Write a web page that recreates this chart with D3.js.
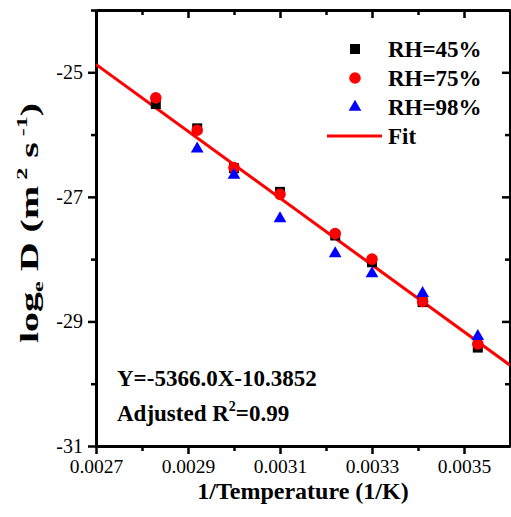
<!DOCTYPE html>
<html>
<head>
<meta charset="utf-8">
<script src="https://cdn.jsdelivr.net/npm/d3@7"></script>
<style>
  body { margin: 0; background: #fff; }
  svg { display: block; }
  svg text { font-family: "Liberation Serif", "Times New Roman", serif; }
</style>
</head>
<body>
<svg id="chart" width="511" height="517"></svg>
<script>
// data
const invT = [0.00283, 0.00292, 0.00300, 0.00310, 0.00322, 0.00330, 0.00341, 0.00353];
const rh45 = [-25.51, -25.90, -26.54, -26.92, -27.62, -28.05, -28.69, -29.42];
const rh75 = [-25.41, -25.93, -26.53, -26.96, -27.59, -28.00, -28.68, -29.36];
const rh98 = [null, -26.23, -26.65, -27.35, -27.91, -28.23, -28.55, -29.24];

const fitSlope = -5366.0;
const fitIntercept = -10.3852;

const xTicks = [0.0027, 0.0029, 0.0031, 0.0033, 0.0035];
const xTickLabels = ["0.0027", "0.0029", "0.0031", "0.0033", "0.0035"];
const xMinor = [0.0028, 0.0030, 0.0032, 0.0034];
const yTicks = [-31, -29, -27, -25];
const yTickLabels = ["-31", "-29", "-27", "-25"];
const yMinor = [-30, -28, -26, -24];

const legendLabels = ["RH=45%", "RH=75%", "RH=98%", "Fit"];

const LEFT = 96, RIGHT = 510, TOP = 10, BOTTOM = 446;
const MAJOR = 8, MINOR = 5;
const SERIF = '"Liberation Serif", "Times New Roman", serif';

const svg = d3.select("#chart");

const x = d3.scaleLinear().domain([0.0027, 0.0036]).range([LEFT, RIGHT]);
const y = d3.scaleLinear().domain([-31, -24]).range([BOTTOM, TOP]);

const styleAxis = (size) => (g) => {
  g.attr("font-family", null);
  g.selectAll(".domain").attr("stroke", "#000").attr("stroke-width", 3);
  g.selectAll(".tick line").attr("stroke", "#000").attr("stroke-width", 2.5);
  g.selectAll(".tick text")
    .style("font-family", SERIF)
    .style("font-size", size + "px")
    .attr("fill", "#000");
};

// bottom axis
const xLab = (d) => xTickLabels[xTicks.indexOf(d)];
svg.append("g").attr("transform", `translate(0,${BOTTOM})`)
  .call(d3.axisBottom(x).tickValues(xTicks).tickFormat(xLab).tickSize(MAJOR).tickSizeOuter(0).tickPadding(5))
  .call(styleAxis(19.5));
svg.append("g").attr("transform", `translate(0,${BOTTOM})`)
  .call(d3.axisBottom(x).tickValues(xMinor).tickFormat("").tickSize(MINOR).tickSizeOuter(0))
  .call(styleAxis(19.5));

// top axis, ticks inside
svg.append("g").attr("transform", `translate(0,${TOP})`)
  .call(d3.axisBottom(x).tickValues(xTicks.slice(1)).tickFormat("").tickSize(MAJOR).tickSizeOuter(0))
  .call(styleAxis(19.5));
svg.append("g").attr("transform", `translate(0,${TOP})`)
  .call(d3.axisBottom(x).tickValues(xMinor).tickFormat("").tickSize(MINOR).tickSizeOuter(0))
  .call(styleAxis(19.5));

// left axis
const yLab = (d) => yTickLabels[yTicks.indexOf(d)];
svg.append("g").attr("transform", `translate(${LEFT},0)`)
  .call(d3.axisLeft(y).tickValues(yTicks).tickFormat(yLab).tickSize(MAJOR).tickSizeOuter(0).tickPadding(5))
  .call(styleAxis(20));
svg.append("g").attr("transform", `translate(${LEFT},0)`)
  .call(d3.axisLeft(y).tickValues(yMinor).tickFormat("").tickSize(MINOR).tickSizeOuter(0))
  .call(styleAxis(20));

// right axis, ticks inside
svg.append("g").attr("transform", `translate(${RIGHT},0)`)
  .call(d3.axisRight(y).tickValues(yTicks.slice(1)).tickFormat("").tickSize(-MAJOR).tickSizeOuter(0))
  .call(styleAxis(20));
svg.append("g").attr("transform", `translate(${RIGHT},0)`)
  .call(d3.axisRight(y).tickValues(yMinor).tickFormat("").tickSize(-MINOR).tickSizeOuter(0))
  .call(styleAxis(20));

// axis titles
svg.append("text")
  .attr("x", (LEFT + RIGHT) / 2).attr("y", 499)
  .attr("text-anchor", "middle")
  .attr("font-size", 24).attr("font-weight", "bold")
  .text("1/Temperature (1/K)");

// the y title is drawn stretched along its length, as in the original
const yt = svg.append("text")
  .attr("transform", `translate(38,223) rotate(-90) scale(1.6,1)`)
  .attr("text-anchor", "middle")
  .attr("font-size", 25).attr("font-weight", "bold");
yt.append("tspan").text("log");
yt.append("tspan").attr("font-size", 15).attr("dy", 5).text("e");
yt.append("tspan").attr("dy", -5).text(" D (m");
yt.append("tspan").attr("font-size", 15).attr("dy", -11).text(" 2");
yt.append("tspan").attr("dy", 11).text(" s");
yt.append("tspan").attr("font-size", 15).attr("dy", -11).text(" -1");
yt.append("tspan").attr("dy", 11).text(")");

// fit line, clipped to the frame
svg.append("clipPath").attr("id", "frame")
  .append("rect").attr("x", LEFT).attr("y", TOP).attr("width", RIGHT - LEFT).attr("height", BOTTOM - TOP);

const fitX = x.domain();
svg.append("path")
  .attr("clip-path", "url(#frame)")
  .attr("d", d3.line().x(d => x(d)).y(d => y(fitSlope * d + fitIntercept))(fitX))
  .attr("stroke", "#ff0000").attr("stroke-width", 3).attr("fill", "none");

// markers
const sq = d3.symbol().type(d3.symbolSquare).size(100);
const ci = d3.symbol().type(d3.symbolCircle).size(Math.PI * 5.8 * 5.8);
const tr = d3.symbol().type(d3.symbolTriangle).size(70);

const series = [
  { vals: rh45, sym: sq, color: "#000000" },
  { vals: rh75, sym: ci, color: "#ff0000" },
  { vals: rh98, sym: tr, color: "#0000ff" }
];

series.forEach(s => {
  svg.append("g").selectAll("path")
    .data(invT.map((t, i) => ({ t, v: s.vals[i] })).filter(d => d.v !== null))
    .join("path")
    .attr("transform", d => `translate(${x(d.t)},${y(d.v)})`)
    .attr("d", s.sym())
    .attr("fill", s.color);
});

// legend
const legend = svg.append("g");
const legY = [49, 78, 107, 136];
series.forEach((s, i) => {
  legend.append("path")
    .attr("transform", `translate(355,${legY[i]})`)
    .attr("d", s.sym())
    .attr("fill", s.color);
});
legend.append("line")
  .attr("x1", 327).attr("x2", 382).attr("y1", legY[3]).attr("y2", legY[3])
  .attr("stroke", "#ff0000").attr("stroke-width", 3);
legendLabels.forEach((l, i) => {
  legend.append("text")
    .attr("x", 388).attr("y", legY[i] + 8)
    .attr("font-size", 23).attr("font-weight", "bold")
    .text(l);
});

// fit annotation
svg.append("text")
  .attr("x", 117).attr("y", 386)
  .attr("font-size", 23).attr("font-weight", "bold")
  .text("Y=-5366.0X-10.3852");
const r2 = svg.append("text")
  .attr("x", 117).attr("y", 421)
  .attr("font-size", 23).attr("font-weight", "bold");
r2.append("tspan").text("Adjusted R");
r2.append("tspan").attr("font-size", 14).attr("dy", -10).text("2");
r2.append("tspan").attr("dy", 10).text("=0.99");
</script>
</body>
</html>
